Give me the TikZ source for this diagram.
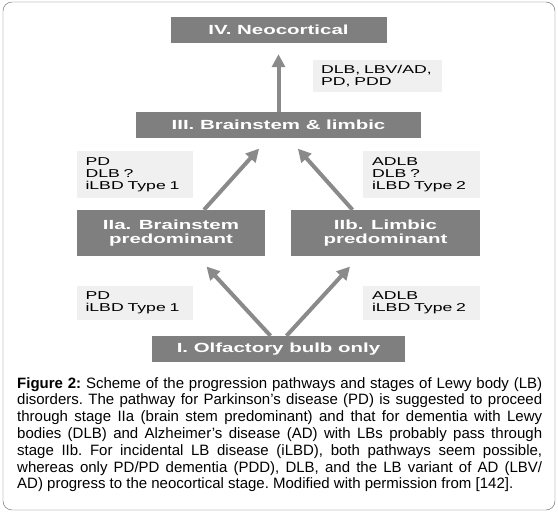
\documentclass[tikz,border=0pt]{standalone}
\usepackage{fontspec}
\setmainfont{Liberation Sans}
\newfontfamily\stagefont[FakeStretch=1.55]{Liberation Sans}
\usetikzlibrary{arrows.meta}
\definecolor{stagegray}{RGB}{127,127,127}
\definecolor{notegray}{RGB}{240,240,240}
\definecolor{arrowgray}{RGB}{138,138,138}
\definecolor{framegray}{RGB}{95,95,95}

\begin{document}
\begin{tikzpicture}[x=1pt,y=-1pt]
        \useasboundingbox (0,0) rectangle (558,514);
        \draw[framegray,rounded corners=9pt] (3,2) rectangle (555,510);

        \begin{scope}[every node/.style={fill=stagegray,text=white,inner sep=0pt,align=center,
            font=\stagefont\bfseries\fontsize{13.2}{14.5}\selectfont}]
          \node[minimum width=216pt,minimum height=26pt] at (278.5,30)  (IV){IV. Neocortical};
          \node[minimum width=285pt,minimum height=26pt] at (278.5,125) (III){III. Brainstem \& limbic};
          \node[minimum width=188pt,minimum height=46pt] at (171,233)   (IIa){IIa. Brainstem\\predominant};
          \node[minimum width=189pt,minimum height=46pt] at (385.5,233) (IIb){IIb. Limbic\\predominant};
          \node[minimum width=253pt,minimum height=26pt] at (278.5,349) (I){I. Olfactory bulb only};
        \end{scope}

        \begin{scope}[every node/.style={fill=notegray,text=black,inner xsep=9pt,inner ysep=0pt,
            align=left,font=\stagefont\fontsize{11.4}{12}\selectfont}]
          \node[text width=113pt,minimum height=32pt,inner xsep=8pt] at (377.5,76) (noteIV){DLB, LBV/AD,\\PD, PDD};
          \node[text width=99pt,minimum height=47pt,inner xsep=8.5pt] at (135,174.5) (noteIIIa){PD\\DLB ?\\iLBD Type 1};
          \node[text width=99pt,minimum height=47pt] at (421.5,174.5) (noteIIIb){ADLB\\DLB ?\\iLBD Type 2};
          \node[text width=99pt,minimum height=34pt,inner xsep=8.5pt] at (135,303) (noteIIa){PD\\iLBD Type 1};
          \node[text width=99pt,minimum height=34pt] at (421.5,303) (noteIIb){ADLB\\iLBD Type 2};
        \end{scope}

        \begin{scope}[arrowgray,line width=4pt,-{Triangle[width=13pt,length=13pt]}]
          \path (III) edge[shorten >=11pt] (IV);
          \path ([xshift=33pt]IIa.north) edge[shorten >=14pt] ([xshift=-10pt]III.south);
          \path ([xshift=-33pt]IIb.north) edge[shorten >=14pt] ([xshift=10pt]III.south);
          \path ([xshift=-8pt]I.north) edge[shorten >=14pt] ([xshift=26pt]IIa.south);
          \path ([xshift=8pt]I.north) edge[shorten >=14pt] ([xshift=-26pt]IIb.south);
        \end{scope}

        \node[anchor=north west,inner sep=0pt,text width=525pt,align=justify,
          font=\fontsize{15}{16.8}\selectfont] at (17,377) (caption){\frenchspacing\tolerance=9999\hyphenpenalty=10000
          \textbf{Figure 2:} Scheme of the progression pathways and stages of Lewy body (LB)\linebreak
          disorders. The pathway for Parkinson’s disease (PD) is suggested to proceed\linebreak
          through stage IIa (brain stem predominant) and that for dementia with Lewy\linebreak
          bodies (DLB) and Alzheimer’s disease (AD) with LBs probably pass through\linebreak
          stage IIb. For incidental LB disease (iLBD), both pathways seem possible,\linebreak
          whereas only PD/PD dementia (PDD), DLB, and the LB variant of AD (LBV/\linebreak
          AD) progress to the neocortical stage. Modified with permission from [142].};
      \end{tikzpicture}
\end{document}
